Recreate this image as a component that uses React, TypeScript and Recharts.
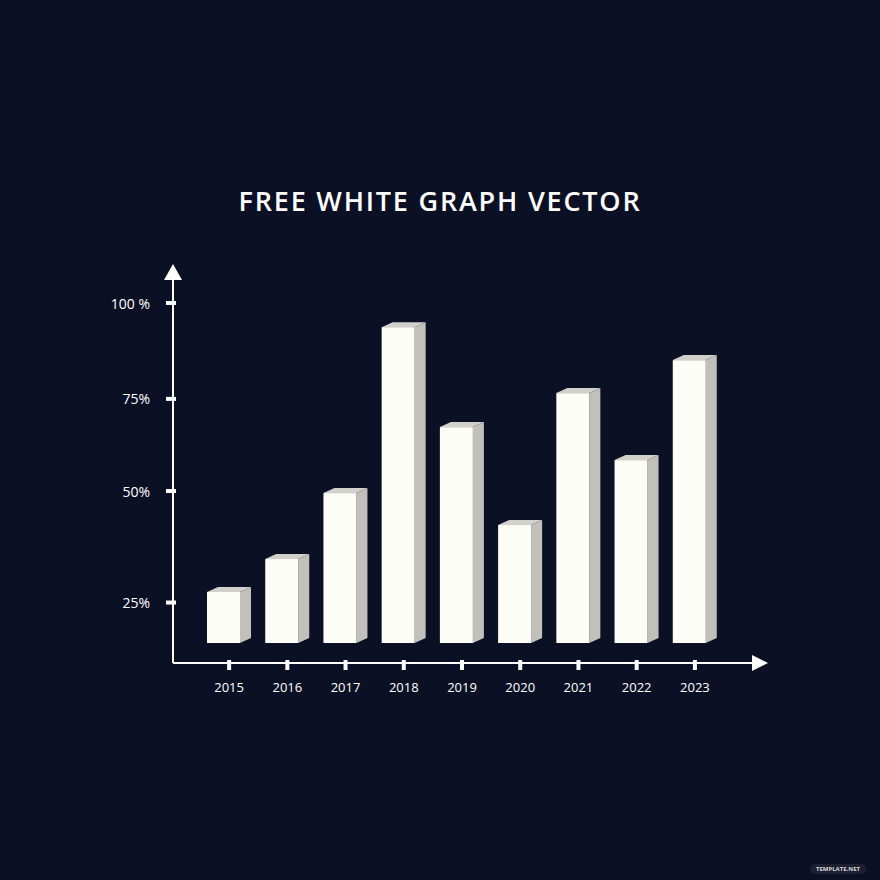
import React from 'react';
import { BarChart, Bar, XAxis, YAxis } from 'recharts';

// years along the bottom
const YEARS = ['2015', '2016', '2017', '2018', '2019', '2020', '2021', '2022', '2023'];
// bar heights, on a scale where the "100 %" tick sits at 100
const SHARE = [15.0, 24.7, 44.1, 92.9, 63.5, 34.7, 73.5, 53.8, 83.2];
// the y ticks are not evenly spaced in the picture
const Y_TICK_VALUES = [11.9, 44.7, 71.8, 100];
const Y_TICK_LABELS = ['25%', '50%', '75%', '100 %'];

const BG = '#0c1025';
const FONT = '"Open Sans", "DejaVu Sans", sans-serif';

const data = YEARS.map((year, i) => ({ year, value: SHARE[i] }));

// 3D-looking box: white front, light top, grey side
const Box = (props: any) => {
  const { x, y, width, height } = props;
  if (height == null || height <= 0) return null;
  const d = 11;
  const r = 5;
  const fw = width - d;
  return (
    <g>
      <polygon
        points={`${x},${y} ${x + fw},${y} ${x + fw + d},${y - r} ${x + d},${y - r}`}
        fill="#d2d0ca"
      />
      <polygon
        points={`${x + fw},${y} ${x + fw + d},${y - r} ${x + fw + d},${y + height - r} ${x + fw},${y + height}`}
        fill="#c2c0ba"
      />
      <rect x={x} y={y} width={fw} height={height} fill="#fdfdf8" />
    </g>
  );
};

const YTick = (props: any) => {
  const { x, y, payload } = props;
  const idx = Y_TICK_VALUES.indexOf(payload.value);
  return (
    <g>
      <rect x={x - 5} y={y - 2} width={10} height={4} fill="#ffffff" />
      <text x={x - 21} y={y} textAnchor="end" dominantBaseline="central" fill="#ffffff" fontSize={14} fontWeight={500} fontFamily={FONT}>
        {Y_TICK_LABELS[idx]}
      </text>
    </g>
  );
};

const XTick = (props: any) => {
  const { x, y, payload } = props;
  return (
    <g>
      <rect x={x - 2} y={y - 5} width={4} height={10} fill="#ffffff" />
      <text x={x} y={y + 22} textAnchor="middle" dominantBaseline="central" fill="#ffffff" fontSize={13} fontWeight={500} fontFamily={FONT}>
        {payload.value}
      </text>
    </g>
  );
};

export default function App() {
  return (
    <div style={{ position: 'absolute', left: 0, top: 0, width: 880, height: 880, background: BG, overflow: 'hidden' }}>
      <div
        style={{
          position: 'absolute',
          top: 184,
          width: 880,
          textAlign: 'center',
          color: '#ffffff',
          fontFamily: FONT,
          fontWeight: 600,
          fontSize: 27,
          letterSpacing: 1.8,
          lineHeight: '34px',
        }}
      >
        FREE WHITE GRAPH VECTOR
      </div>

      <BarChart width={880} height={880} data={data} margin={{ top: 279, right: 128, bottom: 187, left: 0 }}>
        <XAxis
          dataKey="year"
          height={30}
          padding={{ left: 27, right: 28 }}
          axisLine={{ stroke: '#ffffff', strokeWidth: 2 }}
          tickLine={false}
          tickSize={0}
          tick={<XTick />}
          interval={0}
        />
        <YAxis
          width={173}
          domain={[-5.88, 107.06]}
          ticks={Y_TICK_VALUES}
          allowDataOverflow
          axisLine={{ stroke: '#ffffff', strokeWidth: 2 }}
          tickLine={false}
          tickSize={0}
          tick={<YTick />}
          interval={0}
        />
        <Bar dataKey="value" barSize={44} shape={<Box />} isAnimationActive={false} />
      </BarChart>

      {/* axis arrow heads */}
      <svg width={880} height={880} style={{ position: 'absolute', left: 0, top: 0, pointerEvents: 'none' }}>
        <polygon points="173,264 164,280 182,280" fill="#ffffff" />
        <polygon points="768,663 752,655 752,671" fill="#ffffff" />
      </svg>

      <div
        style={{
          position: 'absolute',
          right: 14,
          bottom: 6,
          padding: '1px 6px',
          borderRadius: 8,
          background: '#1c2030',
          color: '#d8d8d8',
          fontFamily: FONT,
          fontSize: 6,
          fontWeight: 700,
        }}
      >
        TEMPLATE.NET
      </div>
    </div>
  );
}
